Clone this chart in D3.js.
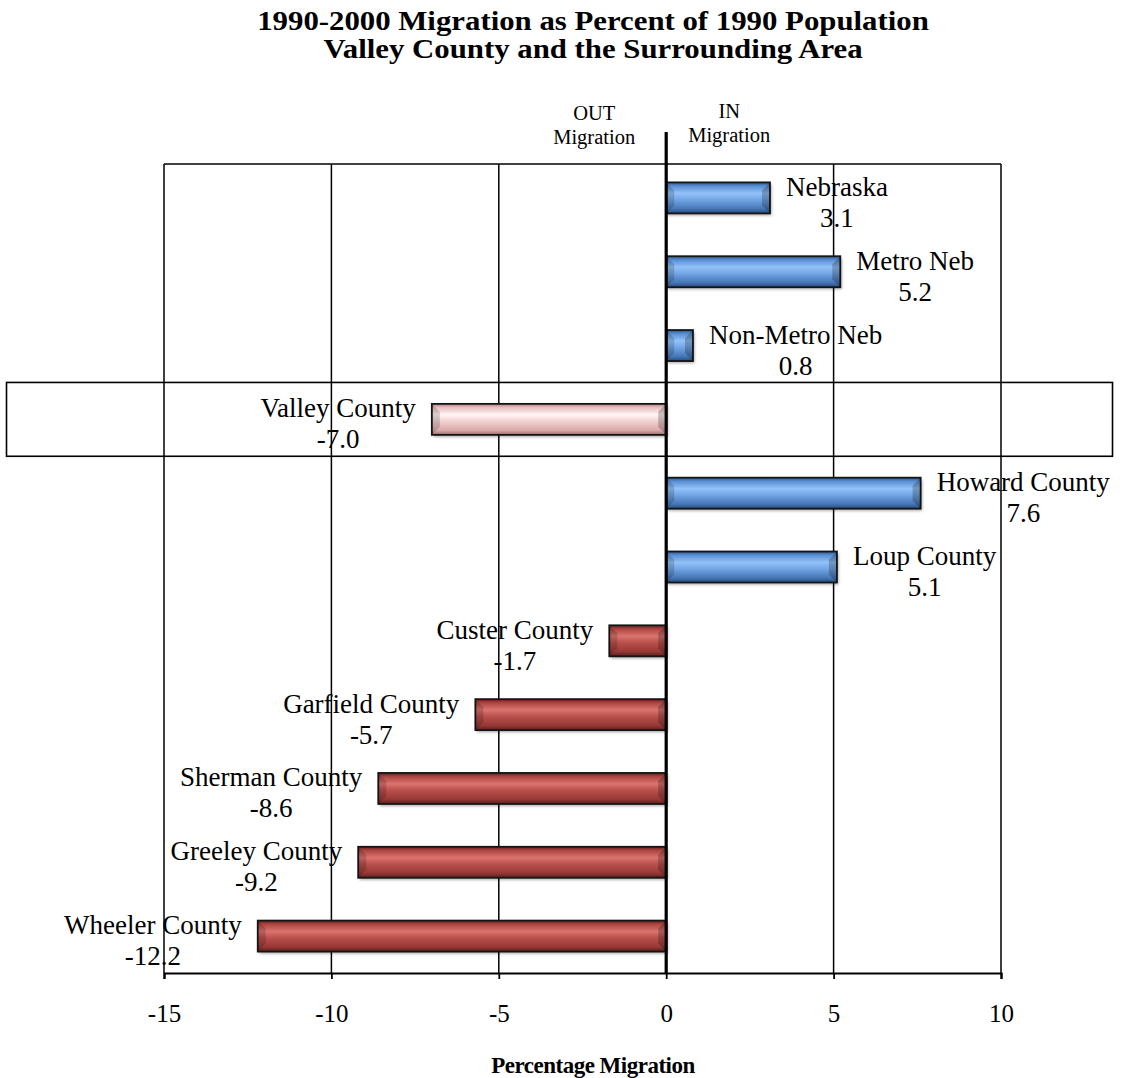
<!DOCTYPE html>
<html>
<head>
<meta charset="utf-8">
<script src="https://cdn.jsdelivr.net/npm/d3@7"></script>
<style>
  html, body { margin: 0; padding: 0; background: #fff; }
  svg { display: block; font-family: "Liberation Serif", "Times New Roman", serif; }
</style>
</head>
<body>
<svg id="chart" width="1127" height="1078"></svg>
<script>
// ---- data ----
const categories = ["Nebraska", "Metro Neb", "Non-Metro Neb", "Valley County", "Howard County",
  "Loup County", "Custer County", "Garfield County", "Sherman County", "Greeley County", "Wheeler County"];
const values = [3.1, 5.2, 0.8, -7.0, 7.6, 5.1, -1.7, -5.7, -8.6, -9.2, -12.2];
const highlight = "Valley County";
const xTicks = [-15, -10, -5, 0, 5, 10];
const titleLines = ["1990-2000 Migration  as Percent of 1990 Population", "Valley County and the Surrounding Area"];
const outLabel = ["OUT", "Migration"];
const inLabel = ["IN", "Migration"];
const xTitle = "Percentage Migration";

// ---- layout ----
const svg = d3.select("#chart");
const plot = { left: 164, right: 1001, top: 164, bottom: 973 };

const x = d3.scaleLinear().domain([-15, 10]).range([plot.left, plot.right]);
const y = d3.scaleBand().domain(categories).range([161, 973]).padding(0);
const barH = 31;

// gradients
const defs = svg.append("defs");
function vgrad(id, stops) {
  const g = defs.append("linearGradient").attr("id", id).attr("x1", 0).attr("y1", 0).attr("x2", 0).attr("y2", 1);
  stops.forEach(s => g.append("stop").attr("offset", s[0]).attr("stop-color", s[1]));
}
vgrad("gBlue", [[0, "#2c5690"], [0.12, "#5a8fd2"], [0.35, "#92c2f8"], [0.55, "#74a7e6"], [0.85, "#4676b6"], [1, "#274b7c"]]);
vgrad("gRed", [[0, "#66211f"], [0.12, "#ad4541"], [0.35, "#db736f"], [0.55, "#ba514d"], [0.85, "#973835"], [1, "#5a1d1b"]]);
vgrad("gPink", [[0, "#ab8282"], [0.12, "#e9bebe"], [0.35, "#fff6f6"], [0.55, "#f3d2d2"], [0.85, "#dca9a9"], [1, "#9e7070"]]);
const blur = defs.append("filter").attr("id", "shadow").attr("x", "-10%").attr("y", "-30%").attr("width", "120%").attr("height", "160%");
blur.append("feGaussianBlur").attr("stdDeviation", 1.5);

// title (glyphs slightly wide, as in the reference)
svg.append("g").attr("transform", "translate(593,0) scale(1.1,1)")
  .selectAll("text").data(titleLines).join("text")
  .attr("x", 0).attr("y", (d, i) => 30 + i * 28.5)
  .attr("text-anchor", "middle").attr("font-weight", "bold").attr("font-size", 28)
  .text(d => d);

// highlight box around the highlighted category
svg.append("rect")
  .attr("x", 6.5).attr("y", y(highlight))
  .attr("width", 1106).attr("height", y.bandwidth())
  .attr("fill", "none").attr("stroke", "#000").attr("stroke-width", 1.6);

// gridlines (vertical)
svg.append("g").selectAll("line").data(xTicks.filter(t => t !== 0)).join("line")
  .attr("x1", d => x(d)).attr("x2", d => x(d))
  .attr("y1", plot.top).attr("y2", plot.bottom)
  .attr("stroke", "#000").attr("stroke-width", 1.5);

// top border
svg.append("line").attr("x1", plot.left).attr("x2", plot.right)
  .attr("y1", plot.top).attr("y2", plot.top).attr("stroke", "#000").attr("stroke-width", 1.6);

// bottom axis
const axis = d3.axisBottom(x).tickValues(xTicks).tickSize(6).tickPadding(25).tickFormat(d => String(d));
const ax = svg.append("g").attr("transform", `translate(0,${plot.bottom})`).call(axis);
ax.attr("font-family", null);
ax.select(".domain").attr("stroke", "#000").attr("stroke-width", 2.2);
ax.selectAll(".tick line").attr("stroke", "#000").attr("stroke-width", 1.8);
ax.selectAll(".tick text").attr("font-family", "Liberation Serif, Times New Roman, serif")
  .attr("font-size", 25).attr("fill", "#000").attr("dy", "0.71em");

// x title
svg.append("text").attr("x", 593).attr("y", 1073).attr("text-anchor", "middle")
  .attr("font-weight", "bold").attr("font-size", 23).attr("letter-spacing", -0.5).text(xTitle);

// bars
const data = categories.map((c, i) => ({ c, v: values[i] }));
const fillOf = d => d.c === highlight ? "url(#gPink)" : (d.v >= 0 ? "url(#gBlue)" : "url(#gRed)");
const bars = svg.append("g");
data.forEach(d => {
  const x0 = Math.min(x(0), x(d.v)), x1 = Math.max(x(0), x(d.v));
  const yc = y(d.c) + y.bandwidth() / 2;
  const y0 = yc - barH / 2;
  const g = bars.append("g");
  g.append("rect").attr("x", x0 + 1.5).attr("y", y0 + 2).attr("width", x1 - x0).attr("height", barH)
    .attr("fill", "#000").attr("opacity", 0.35).attr("filter", "url(#shadow)");
  g.append("rect").attr("x", x0).attr("y", y0).attr("width", x1 - x0).attr("height", barH)
    .attr("fill", fillOf(d)).attr("stroke", "#151515").attr("stroke-width", 1.8);
  // bevel at the ends
  const b = Math.min(8, (x1 - x0) / 2);
  g.append("path")
    .attr("d", `M${x0},${y0} L${x0 + b},${y0 + b} L${x0 + b},${y0 + barH - b} L${x0},${y0 + barH} Z`)
    .attr("fill", "#000").attr("opacity", 0.16);
  g.append("path")
    .attr("d", `M${x1},${y0} L${x1 - b},${y0 + b} L${x1 - b},${y0 + barH - b} L${x1},${y0 + barH} Z`)
    .attr("fill", "#000").attr("opacity", 0.22);
});

// zero line (thick), extends above plot
svg.append("line").attr("x1", x(0)).attr("x2", x(0)).attr("y1", 132).attr("y2", plot.bottom)
  .attr("stroke", "#000").attr("stroke-width", 3.2);

// OUT / IN headers
svg.append("g").selectAll("text").data(outLabel).join("text")
  .attr("x", x(0) - 72).attr("y", (d, i) => 120 + i * 24).attr("text-anchor", "middle")
  .attr("font-size", 20.5).text(d => d);
svg.append("g").selectAll("text").data(inLabel).join("text")
  .attr("x", x(0) + 63).attr("y", (d, i) => 118 + i * 24).attr("text-anchor", "middle")
  .attr("font-size", 20.5).text(d => d);

// data labels: name + value, centred as a block beside bar end
const labels = svg.append("g").attr("font-size", 27);
const gap = 16;
data.forEach(d => {
  const yc = y(d.c) + y.bandwidth() / 2;
  const pos = d.v >= 0;
  const xa = pos ? x(d.v) + gap : x(d.v) - gap;
  const name = labels.append("text").attr("x", xa).attr("y", yc - 2)
    .attr("text-anchor", pos ? "start" : "end").text(d.c);
  const w = name.node().getComputedTextLength();
  labels.append("text").attr("x", pos ? xa + w / 2 : xa - w / 2).attr("y", yc + 29)
    .attr("text-anchor", "middle").text(d.v.toFixed(1));
});
</script>
</body>
</html>
